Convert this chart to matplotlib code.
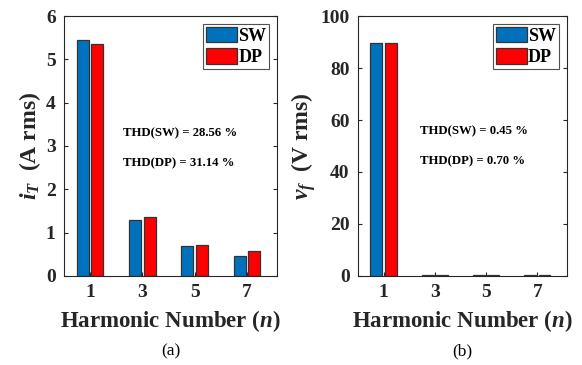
import matplotlib
matplotlib.use('Agg')
import matplotlib.pyplot as plt
import numpy as np

# datos
harmonics = [1, 3, 5, 7]
iT_sw = [5.45, 1.30, 0.68, 0.47]
iT_dp = [5.35, 1.37, 0.72, 0.58]
vf_sw = [89.8, 0.20, 0.25, 0.30]
vf_dp = [89.6, 0.25, 0.30, 0.45]
thd_a = ['THD(SW) = 28.56 %', 'THD(DP) = 31.14 %']
thd_b = ['THD(SW) = 0.45 %', 'THD(DP) = 0.70 %']

plt.rcParams['font.family'] = 'Liberation Serif'
plt.rcParams['font.weight'] = 'bold'
plt.rcParams['mathtext.fontset'] = 'custom'
plt.rcParams['mathtext.it'] = 'Liberation Serif:italic:bold'
plt.rcParams['mathtext.rm'] = 'Liberation Serif:bold'
plt.rcParams['mathtext.bf'] = 'Liberation Serif:bold'

dark = '#262626'
blue = '#0072BD'
red = '#FF0000'

fig = plt.figure(figsize=(5.82, 3.65), dpi=100)
ax1 = fig.add_axes([0.110, 0.244, 0.366, 0.712])
ax2 = fig.add_axes([0.615, 0.244, 0.359, 0.712])

x = np.array(harmonics, dtype=float)
w = 0.46
off = 0.28


def draw(ax, sw, dp, ylim, yticks, ylabel, thd, ty, tx, sub):
    ax.bar(x - off, sw, w, color=blue, edgecolor='#333333', linewidth=0.9, label='SW')
    ax.bar(x + off, dp, w, color=red, edgecolor='#333333', linewidth=0.9, label='DP')
    ax.set_xlim(0, 8.15)
    ax.set_ylim(*ylim)
    ax.set_xticks(harmonics)
    ax.set_yticks(yticks)
    ax.tick_params(direction='in', top=False, right=True, labelsize=14,
                   colors=dark, length=3, width=0.8, pad=6)
    for lab in ax.get_xticklabels() + ax.get_yticklabels():
        lab.set_fontweight('bold')
    for s in ax.spines.values():
        s.set_color(dark)
        s.set_linewidth(0.8)
    ax.set_xlabel('Harmonic Number ($n$)', fontsize=16.5, fontweight='bold',
                  color=dark, labelpad=5)
    ax.set_ylabel(ylabel, fontsize=17, fontweight='bold', color=dark, labelpad=2)
    ax.text(tx, ty[0], thd[0], fontsize=9.2, fontweight='bold', color='black', va='center')
    ax.text(tx, ty[1], thd[1], fontsize=9.2, fontweight='bold', color='black', va='center')
    leg = ax.legend(loc='upper right', frameon=True, fancybox=False,
                    handlelength=1.75, handleheight=0.95, handletextpad=0.05,
                    borderpad=0.15, labelspacing=0.2, borderaxespad=0.45,
                    edgecolor=dark, prop={'weight': 'bold', 'size': 13})
    leg.get_frame().set_linewidth(0.8)
    ax.text(0.5, -0.29, sub, transform=ax.transAxes, ha='center', va='center',
            fontsize=12.5, fontweight='normal', color='black')


draw(ax1, iT_sw, iT_dp, (0, 6), [0, 1, 2, 3, 4, 5, 6],
     '$i_T$  (A rms)', thd_a, [3.30, 2.61], 2.27, '(a)')
draw(ax2, vf_sw, vf_dp, (0, 100), [0, 20, 40, 60, 80, 100],
     '$v_f$  (V rms)', thd_b, [55.5, 44.0], 2.42, '(b)')

fig.savefig('out.png', dpi=100)
